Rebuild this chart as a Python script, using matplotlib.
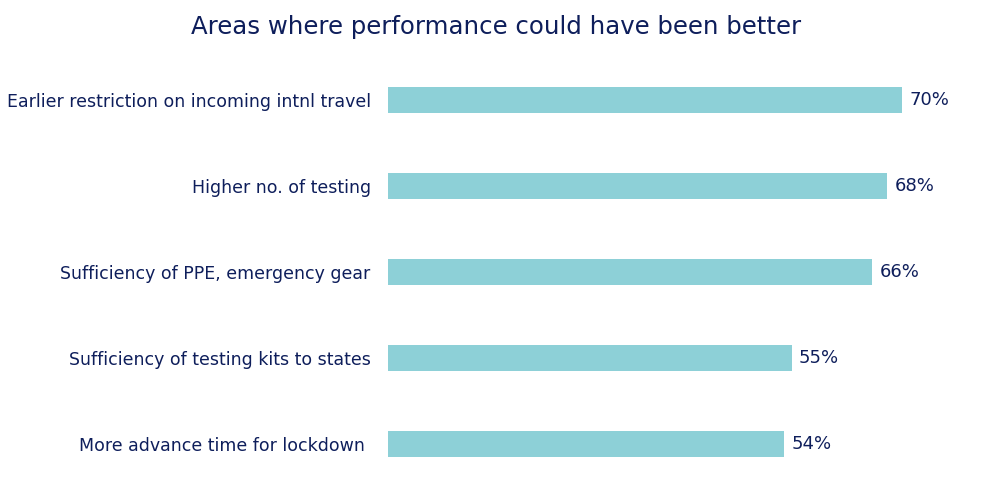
import matplotlib
matplotlib.use("Agg")
import matplotlib.pyplot as plt

categories = [
    "Earlier restriction on incoming intnl travel",
    "Higher no. of testing",
    "Sufficiency of PPE, emergency gear",
    "Sufficiency of testing kits to states",
    "More advance time for lockdown ",
]
values = [70, 68, 66, 55, 54]
value_labels = ["70%", "68%", "66%", "55%", "54%"]
title = "Areas where performance could have been better"

navy = "#0E1E5B"
bar_color = "#8DD0D7"
plt.rcParams['font.family'] = ['DejaVu Sans']

fig = plt.figure(figsize=(9.9, 5.04), dpi=100)
ax = fig.add_axes([388/990, 1-487/504, (990-388)/990, 430/504])
ypos = list(range(len(categories)))
ax.barh(ypos, values, height=0.31, color=bar_color)
ax.set_ylim(len(categories)-0.5, -0.5)
ax.set_xlim(0, 602/7.34)
for y, v, lab in zip(ypos, values, value_labels):
    ax.text(v + 1.0, y, lab, va='center', ha='left', fontsize=13, color=navy)
ax.set_yticks(ypos)
ax.set_yticklabels(categories, fontsize=12.5, color=navy)
ax.tick_params(axis='y', length=0, pad=12.5)
ax.set_xticks([])
for s in ax.spines.values():
    s.set_visible(False)
fig.text(496/990, 1-27/504, title, ha='center', va='center', fontsize=17.6, color=navy)
fig.savefig("out.png", dpi=100)
